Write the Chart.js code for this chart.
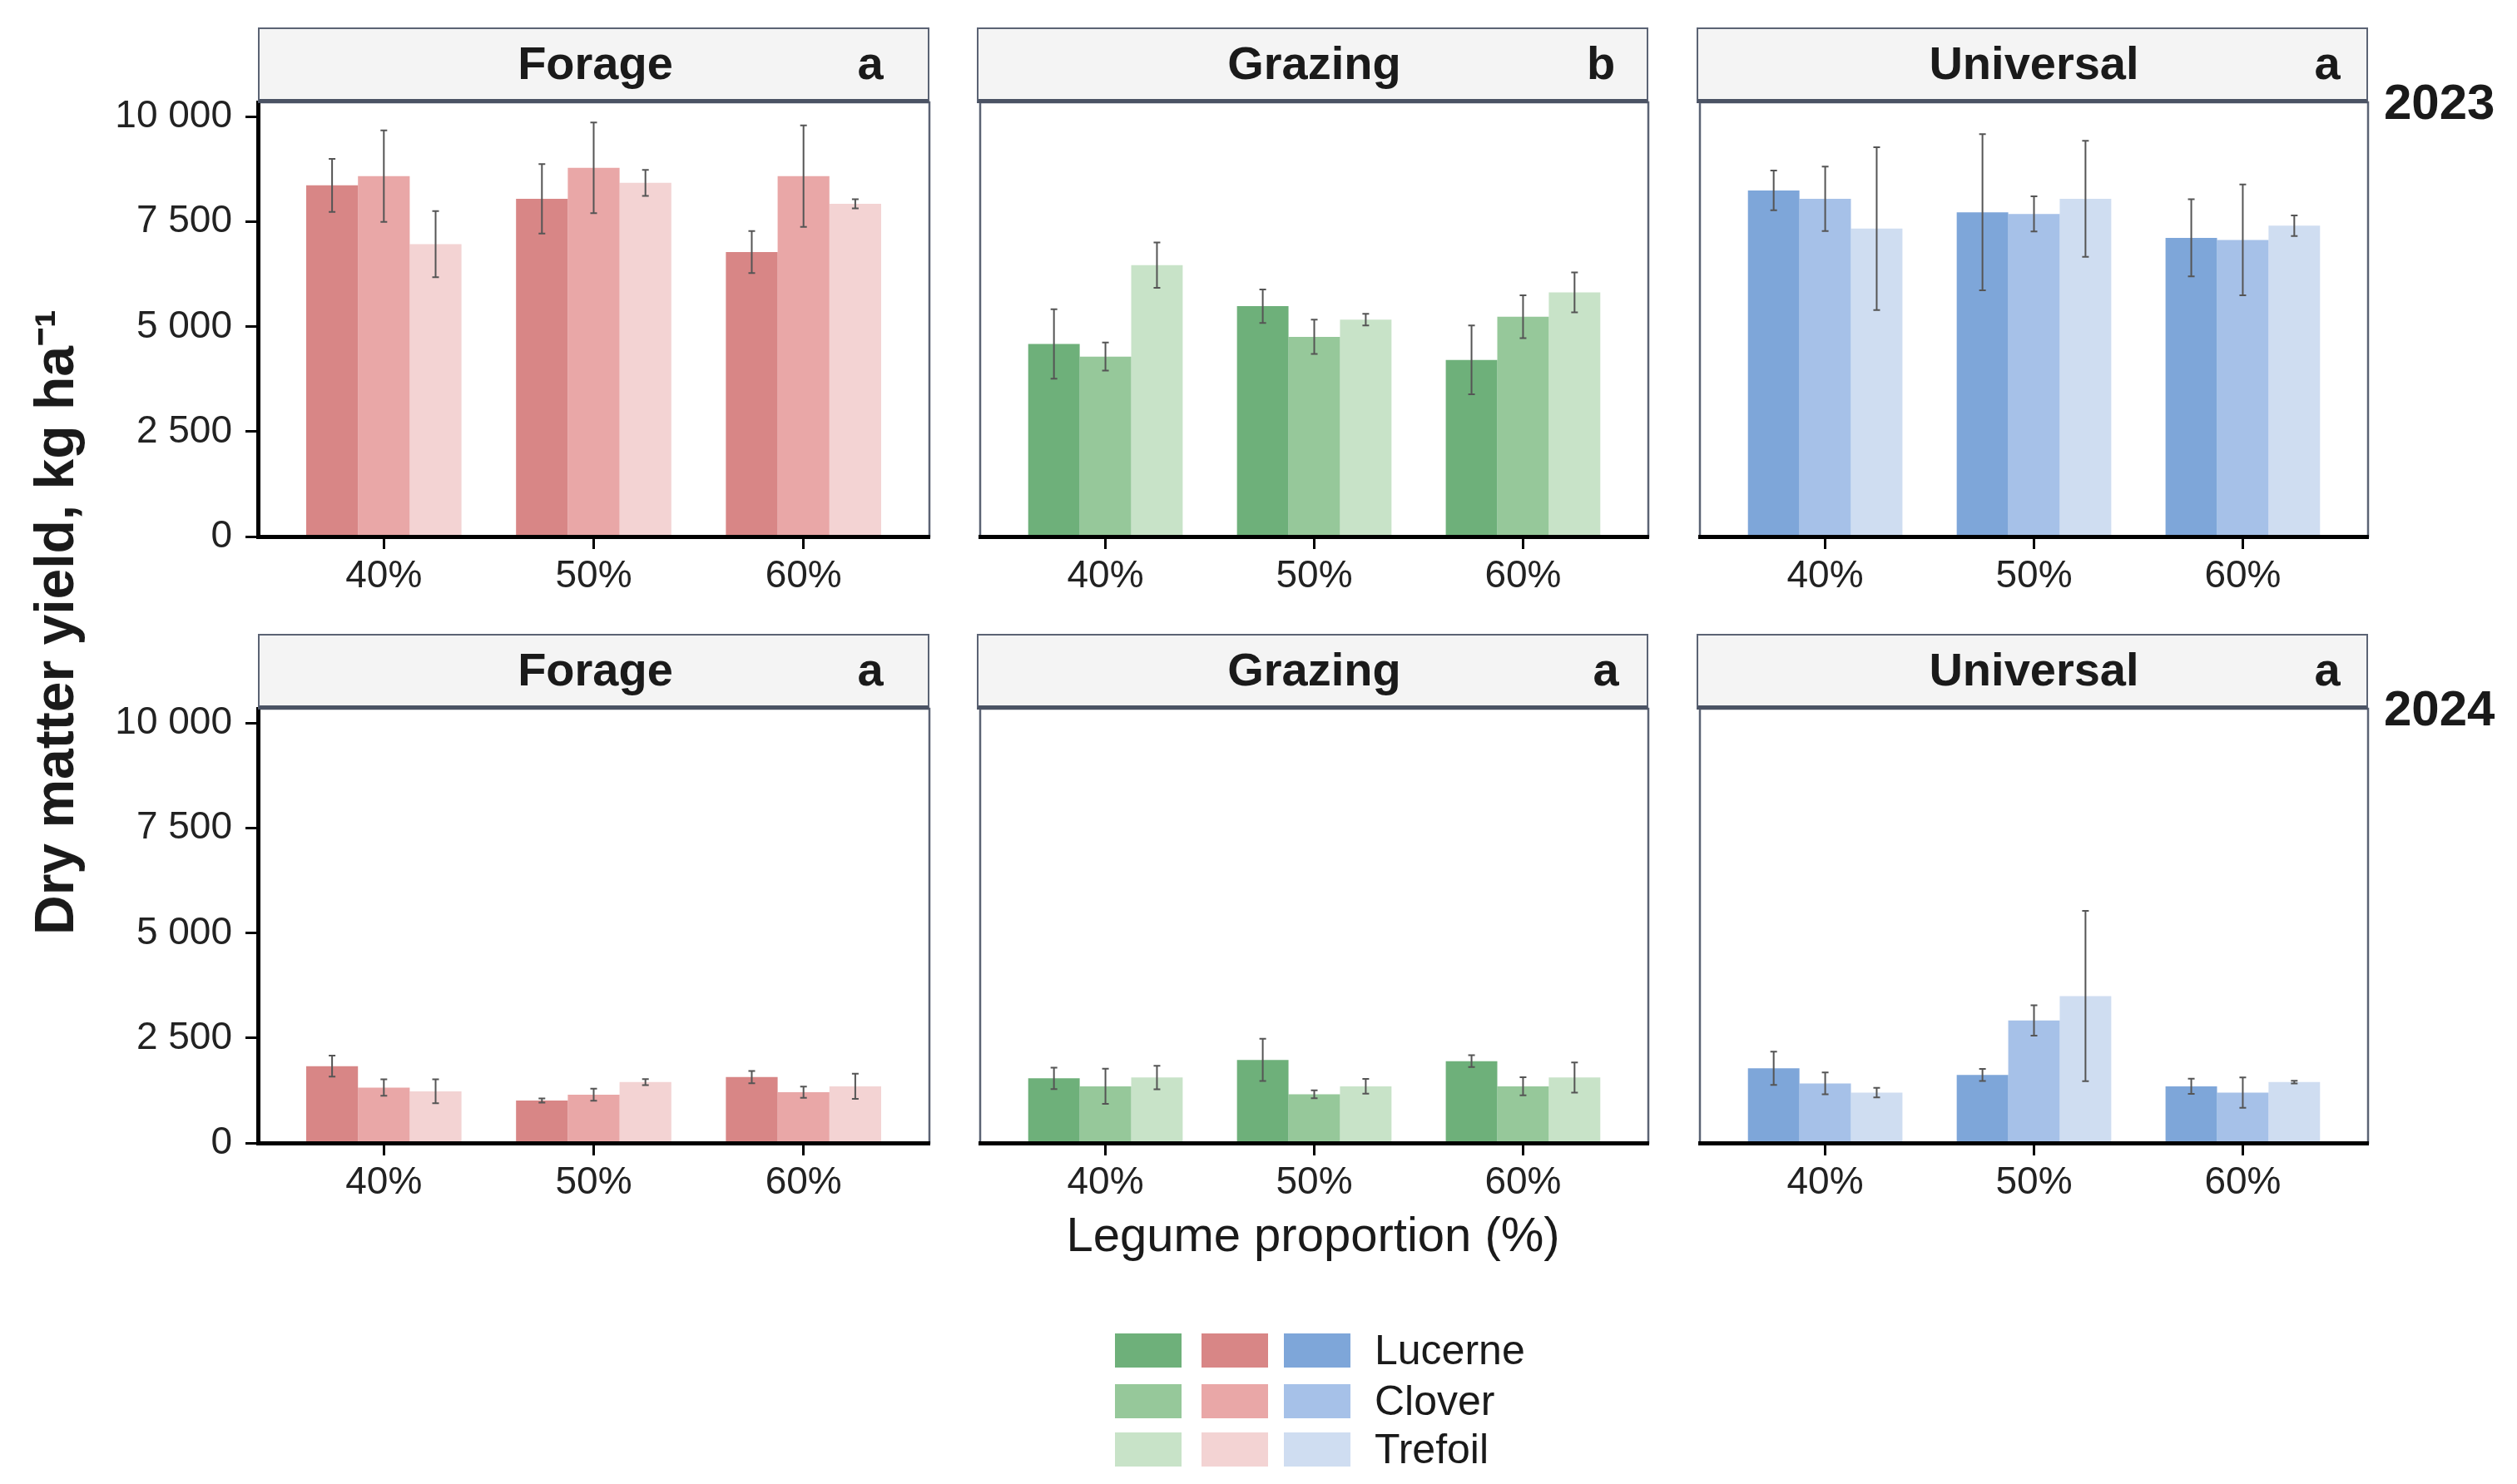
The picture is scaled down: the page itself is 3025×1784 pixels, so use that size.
<!DOCTYPE html>
<html>
<head>
<meta charset="utf-8">
<title>Dry matter yield</title>
<script src="https://cdn.jsdelivr.net/npm/chart.js@4.4.1/dist/chart.umd.min.js"></script>
<style>
  html, body { margin: 0; padding: 0; background: #fff; }
  body {
    width: 3025px; height: 1784px; position: relative; overflow: hidden;
    font-family: "Liberation Sans", Arial, sans-serif; color: #1a1a1a;
  }
  canvas { position: absolute; }
  .strip {
    position: absolute; box-sizing: border-box; background: #f4f4f4;
    border: 2.5px solid #5b6374; border-bottom: 5px solid #4b5364;
    font-weight: bold; font-size: 56px; z-index: 2;
  }
  .strip span { position: absolute; top: 50%; transform: translate(-50%, -52%); white-space: nowrap; }
  .year { position: absolute; font-weight: bold; font-size: 60px; transform: translateY(-50%); }
  .ytitle {
    position: absolute; left: 62px; top: 748px; font-weight: bold; font-size: 66px;
    white-space: nowrap; transform: translate(-50%, -50%) rotate(-90deg);
  }
  .xtitle {
    position: absolute; left: 1578px; top: 1483px; font-size: 58px;
    white-space: nowrap; transform: translate(-50%, -50%);
  }
  .key { position: absolute; width: 80px; height: 41px; }
  .keylabel { position: absolute; left: 1652px; font-size: 50px; transform: translateY(-50%); }
</style>
</head>
<body>
<script>
// categories and labels
const proportions = ['40%', '50%', '60%'];
const mixtures = ['Forage', 'Grazing', 'Universal'];
const years = ['2023', '2024'];
const legumes = ['Lucerne', 'Clover', 'Trefoil'];
const yTicks = [0, 2500, 5000, 7500, 10000];
const yTickLabels = ['0', '2 500', '5 000', '7 500', '10 000'];
const letters2023 = ['a', 'b', 'a'];
const letters2024 = ['a', 'a', 'a'];

// mean yield, rows = Lucerne, Clover, Trefoil; columns = 40, 50, 60 %
const forage2023 = [[8370, 8050, 6780], [8590, 8790, 8590], [6970, 8430, 7930]];
const grazing2023 = [[4590, 5490, 4210], [4290, 4760, 5240], [6470, 5170, 5820]];
const universal2023 = [[8250, 7730, 7120], [8050, 7690, 7070], [7340, 8050, 7410]];
const forage2024 = [[1830, 1010, 1570], [1320, 1150, 1210], [1230, 1450, 1350]];
const grazing2024 = [[1540, 1980, 1950], [1350, 1160, 1350], [1560, 1350, 1560]];
const universal2024 = [[1780, 1620, 1350], [1420, 2920, 1200], [1200, 3500, 1450]];

// error bar half-widths, same layout
const forage2023Se = [[630, 830, 500], [1090, 1080, 1210], [790, 310, 110]];
const grazing2023Se = [[830, 400, 820], [335, 410, 510], [540, 140, 475]];
const universal2023Se = [[475, 1860, 920], [770, 420, 1320], [1940, 1385, 245]];
const forage2024Se = [[250, 50, 145], [195, 145, 135], [285, 70, 300]];
const grazing2024Se = [[255, 505, 140], [420, 95, 215], [280, 175, 360]];
const universal2024Se = [[395, 145, 180], [260, 360, 360], [115, 2030, 30]];

const means = [[forage2023, grazing2023, universal2023], [forage2024, grazing2024, universal2024]];
const errors = [[forage2023Se, grazing2023Se, universal2023Se], [forage2024Se, grazing2024Se, universal2024Se]];
const letters = [letters2023, letters2024];

// colours per mixture (Lucerne, Clover, Trefoil)
const palette = [
  ['#d88686', '#e9a7a7', '#f3d3d3'],
  ['#6eb07a', '#96c89a', '#c8e3c8'],
  ['#7ea6d9', '#a6c1e8', '#cfddf1']
];
const legendOrder = [1, 0, 2];

// layout
const panelLeft = [310, 1174, 2039];
const panelWidth = 807;
const plotTop = [123, 852];
const plotHeight = 522;
const stripHeight = 90;
const letterX = [[734, 748, 756], [734, 754, 756]];
const yMax = 10350;
const padTop = 30, padB = 110, padR = 6;
const fontFamily = '"Liberation Sans", Arial, sans-serif';

const panelFrame = {
  id: 'panelFrame',
  beforeDatasetsDraw(chart) {
    const { ctx, chartArea: a } = chart;
    ctx.save();
    ctx.strokeStyle = '#5b6374';
    ctx.lineWidth = 2.5;
    ctx.strokeRect(a.left, a.top, a.right - a.left, a.bottom - a.top);
    ctx.restore();
  }
};

const errorBars = {
  id: 'errorBars',
  afterDatasetsDraw(chart) {
    const { ctx } = chart;
    const y = chart.scales.y;
    ctx.save();
    ctx.strokeStyle = '#555555';
    ctx.lineWidth = 2;
    chart.data.datasets.forEach((ds, d) => {
      chart.getDatasetMeta(d).data.forEach((bar, i) => {
        const v = ds.data[i].y, e = ds.se[i];
        const hi = y.getPixelForValue(v + e), lo = y.getPixelForValue(v - e);
        ctx.beginPath();
        ctx.moveTo(bar.x, hi); ctx.lineTo(bar.x, lo);
        ctx.moveTo(bar.x - 4, hi); ctx.lineTo(bar.x + 4, hi);
        ctx.moveTo(bar.x - 4, lo); ctx.lineTo(bar.x + 4, lo);
        ctx.stroke();
      });
    });
    ctx.restore();
  }
};

function noPadding(s) {
  s.paddingTop = 0; s.paddingBottom = 0; s.paddingLeft = 0; s.paddingRight = 0;
}

function addDiv(cls, text, css) {
  const el = document.createElement('div');
  el.className = cls;
  if (text) el.textContent = text;
  Object.assign(el.style, css);
  document.body.appendChild(el);
  return el;
}

years.forEach((year, r) => {
  mixtures.forEach((mix, c) => {
    const first = c === 0;
    const padL = first ? 300 : 4;
    const canvas = document.createElement('canvas');
    canvas.width = padL + panelWidth + padR;
    canvas.height = padTop + plotHeight + padB;
    canvas.style.left = (panelLeft[c] - padL) + 'px';
    canvas.style.top = (plotTop[r] - padTop) + 'px';
    document.body.appendChild(canvas);

    new Chart(canvas, {
      type: 'bar',
      data: {
        datasets: legumes.map((name, k) => ({
          label: name,
          data: means[r][c][k].map((v, i) => ({ x: i + 1, y: v })),
          se: errors[r][c][k],
          backgroundColor: palette[c][k],
          borderWidth: 0,
          categoryPercentage: 0.74,
          barPercentage: 1
        }))
      },
      options: {
        responsive: false,
        animation: false,
        layout: { padding: { left: first ? 0 : padL, right: padR, top: padTop, bottom: 0 } },
        plugins: { legend: { display: false }, tooltip: { enabled: false } },
        scales: {
          x: {
            type: 'linear', min: 0.4, max: 3.6, offset: false,
            afterBuildTicks: s => { s.ticks = proportions.map((p, i) => ({ value: i + 1 })); },
            afterFit: s => { s.height = padB; noPadding(s); },
            ticks: {
              callback: (v, i) => proportions[i],
              font: { family: fontFamily, size: 46 }, color: '#222',
              padding: 6, autoSkip: false, maxRotation: 0
            },
            grid: {
              display: true, offset: false, drawOnChartArea: false, drawTicks: true, z: 1,
              tickLength: 15, tickWidth: 3, tickColor: '#000', color: '#000'
            },
            border: { display: true, color: '#000', width: 5, z: 1 }
          },
          y: {
            display: first, min: 0, max: yMax,
            afterBuildTicks: s => { s.ticks = yTicks.map(v => ({ value: v })); },
            afterFit: s => { s.width = padL; noPadding(s); },
            ticks: {
              callback: (v, i) => yTickLabels[i],
              font: { family: fontFamily, size: 46 }, color: '#222', padding: 16
            },
            grid: {
              display: true, drawOnChartArea: false, drawTicks: true, z: 1,
              tickLength: 15, tickWidth: 3, tickColor: '#000', color: '#000'
            },
            border: { display: true, color: '#000', width: 5, z: 1 }
          }
        }
      },
      plugins: [panelFrame, errorBars]
    });

    const strip = addDiv('strip', '', {
      left: panelLeft[c] + 'px', top: (plotTop[r] - stripHeight) + 'px',
      width: panelWidth + 'px', height: (stripHeight + 1) + 'px'
    });
    const t = document.createElement('span');
    t.textContent = mix;
    t.style.left = (panelWidth / 2) + 'px';
    strip.appendChild(t);
    const l = document.createElement('span');
    l.textContent = letters[r][c];
    l.style.left = letterX[r][c] + 'px';
    strip.appendChild(l);
  });
  addDiv('year', year, { left: '2865px', top: (plotTop[r] - 1) + 'px' });
});

addDiv('ytitle', 'Dry matter yield, kg ha\u207B\u00B9', {});
addDiv('xtitle', 'Legume proportion (%)', {});

// legend: green, red, blue columns; one row per legume
const keyX = [1340, 1444, 1543];
const keyY = [1603, 1664, 1722];
legumes.forEach((name, k) => {
  legendOrder.forEach((c, j) => {
    addDiv('key', '', { left: keyX[j] + 'px', top: keyY[k] + 'px', background: palette[c][k] });
  });
  addDiv('keylabel', name, { top: (keyY[k] + 20) + 'px' });
});
</script>
</body>
</html>
